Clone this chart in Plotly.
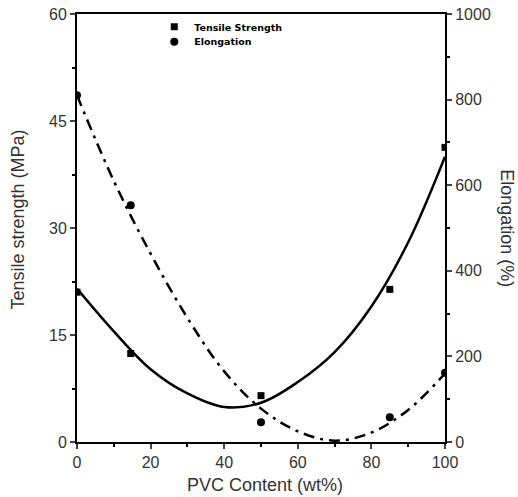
import plotly.graph_objects as go

# Measured data
pvc_content = [0, 14.6, 50, 85, 100]
tensile_strength = [21.0, 12.4, 6.5, 21.4, 41.3]
elongation = [810, 553, 46, 58, 162]

# Fitted trend lines
fit_x = [0, 10, 20, 30, 40, 50, 60, 70, 80, 90, 100]
tensile_fit = [21.5, 15.5, 10.2, 6.8, 4.9, 5.5, 8.4, 12.6, 19.0, 28.0, 40.0]
elong_fit = [810, 610, 440, 290, 165, 78, 25, 3, 22, 75, 160]

x_ticks = [0, 20, 40, 60, 80, 100]
y1_ticks = [0, 15, 30, 45, 60]
y2_ticks = [0, 200, 400, 600, 800, 1000]

FONT = "Liberation Sans, Arial, sans-serif"
fig = go.Figure()
fig.add_trace(go.Scatter(x=fit_x, y=tensile_fit, mode="lines", line=dict(color="black", width=2.5, shape="spline"),
                         showlegend=False, hoverinfo="skip"))
fig.add_trace(go.Scatter(x=fit_x, y=elong_fit, mode="lines", yaxis="y2",
                         line=dict(color="black", width=2.5, shape="spline", dash="11px,6px,3px,6px"),
                         showlegend=False, hoverinfo="skip"))
fig.add_trace(go.Scatter(x=pvc_content, y=tensile_strength, mode="markers", name="Tensile Strength",
                         marker=dict(symbol="square", size=7, color="black"), legend="legend"))
fig.add_trace(go.Scatter(x=pvc_content, y=elongation, mode="markers", name="Elongation", yaxis="y2",
                         marker=dict(symbol="circle", size=8, color="black"), legend="legend2"))

tickfont = dict(family=FONT, size=16, color="#333")
titlefont = dict(family=FONT, size=18, color="#333")
legfont = dict(family="DejaVu Sans, sans-serif", size=9.5, color="black", weight="bold")

fig.update_layout(
    width=518, height=497,
    margin=dict(l=77, r=73, t=12, b=55),
    paper_bgcolor="white", plot_bgcolor="white",
    xaxis=dict(range=[0, 100], tickvals=x_ticks, ticks="outside", ticklen=5, tickwidth=1.5, automargin=False,
               showline=True, linewidth=2, linecolor="black", mirror=True, showgrid=False, zeroline=False,
               tickfont=tickfont,
               minor=dict(dtick=10, ticks="outside", ticklen=3, tickcolor="black")),
    yaxis=dict(range=[0, 60], tickvals=y1_ticks, ticks="outside", ticklen=5, tickwidth=1.5, automargin=False,
               showline=True, linewidth=2, linecolor="black", showgrid=False, zeroline=False,
               tickfont=tickfont,
               minor=dict(dtick=7.5, ticks="outside", ticklen=3, tickcolor="black")),
    yaxis2=dict(range=[0, 1000], tickvals=y2_ticks, overlaying="y", side="right", ticks="outside",
                ticklen=5, tickwidth=1.5, showline=True, linewidth=2, linecolor="black", automargin=False,
                showgrid=False, zeroline=False, tickfont=tickfont,
                minor=dict(dtick=100, ticks="outside", ticklen=3, tickcolor="black")),
    legend=dict(x=0.21, y=1.004, xanchor="left", yanchor="top", bgcolor="rgba(0,0,0,0)",
                font=legfont, itemwidth=30),
    legend2=dict(x=0.21, y=0.969, xanchor="left", yanchor="top", bgcolor="rgba(0,0,0,0)",
                 font=legfont, itemwidth=30),
    annotations=[
        dict(text="Tensile strength (MPa)", xref="paper", yref="paper", x=-0.16, y=0.52, textangle=-90,
             showarrow=False, font=titlefont, xanchor="center", yanchor="middle"),
        dict(text="Elongation (%)", xref="paper", yref="paper", x=1.168, y=0.5, textangle=90,
             showarrow=False, font=titlefont, xanchor="center", yanchor="middle"),
        dict(text="PVC Content (wt%)", xref="paper", yref="paper", x=0.51, y=-0.10,
             showarrow=False, font=titlefont, xanchor="center", yanchor="middle"),
    ],
)

fig.write_html("out.html", config={"displayModeBar": False},
               post_script="document.body.style.margin='0';document.body.style.overflow='hidden';")
